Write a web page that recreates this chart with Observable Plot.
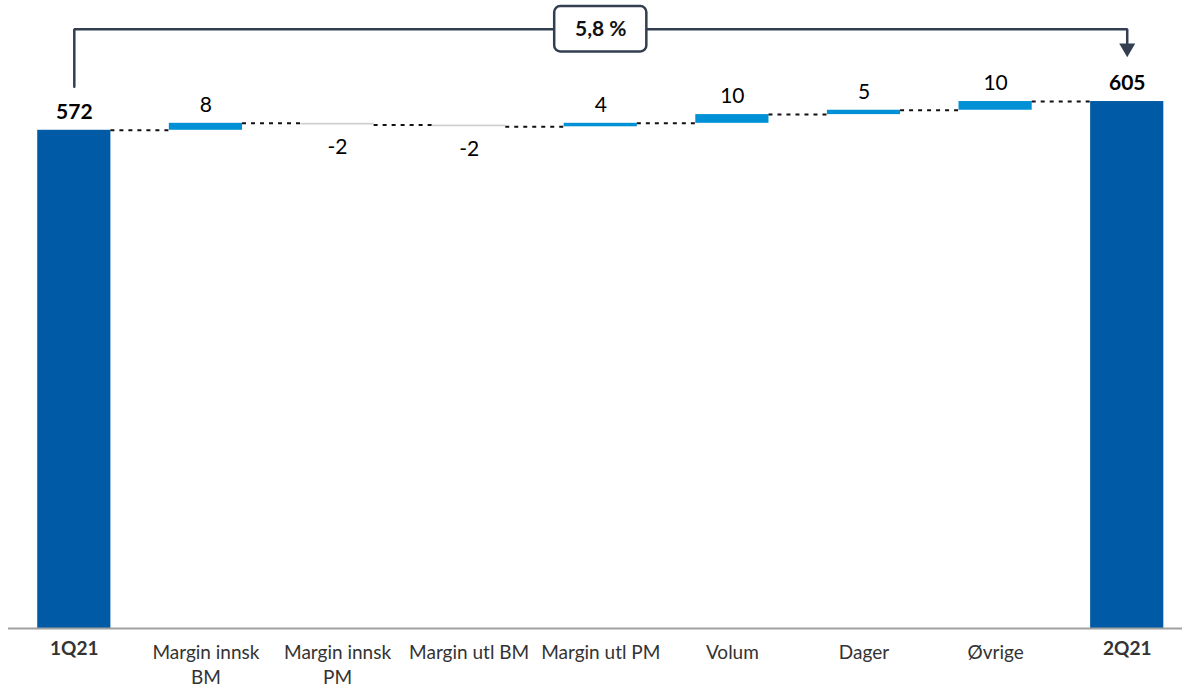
<!DOCTYPE html>
<html><head><meta charset="utf-8">
<script src="https://cdn.jsdelivr.net/npm/d3@7"></script>
<script src="https://cdn.jsdelivr.net/npm/@observablehq/plot@0.6"></script>
<style>body{margin:0;background:#fff;} svg{display:block;}</style>
</head><body><div id="chart"></div>
<script>
// ---- data ----
const categories = ["1Q21","Margin innsk BM","Margin innsk PM","Margin utl BM","Margin utl PM","Volum","Dager","Øvrige","2Q21"];
const tickLabels = ["1Q21","Margin innsk\nBM","Margin innsk\nPM","Margin utl BM","Margin utl PM","Volum","Dager","Øvrige","2Q21"];
const values = [572, 8, -2, -2, 4, 10, 5, 10, 605];
const isTotal = [true, false, false, false, false, false, false, false, true];
const valueLabels = ["572","8","-2","-2","4","10","5","10","605"];
const changeLabel = "5,8 %";

// ---- styles / layout constants ----
const HALF = 0.278;           // half bar width in category units
const COLORS = {total: "#005aa5", up: "#0090d5", down: "#d0d0d0"};
const DARK = "#333f50";

// ---- derived table ----
let cum = 0;
const rows = categories.map((c, i) => {
  let y1, y2;
  if (isTotal[i]) { y1 = 0; y2 = values[i]; }
  else { y1 = cum; y2 = cum + values[i]; }
  cum = y2;
  return {i, c, x1: i - HALF, x2: i + HALF, y1, y2,
    lo: Math.min(y1, y2), hi: Math.max(y1, y2), end: y2,
    total: isTotal[i], v: values[i], label: valueLabels[i],
    kind: isTotal[i] ? "total" : (values[i] >= 0 ? "up" : "down")};
});
const links = rows.slice(0, -1).map((r, i) => ({x1: i + HALF, x2: i + 1 - HALF, y: r.end}));

const firstRow = rows[0], lastRow = rows[rows.length - 1];
const maxTotal = Math.max(firstRow.end, lastRow.end);
const bracketY = maxTotal + 83;
const bracket = [
  {x: firstRow.i, y: firstRow.end + 50},
  {x: firstRow.i, y: bracketY},
  {x: lastRow.i, y: bracketY},
  {x: lastRow.i, y: lastRow.end + 66}
];
const midX = (firstRow.i + lastRow.i) / 2;
const downTriangle = {
  draw(context, size) {
    const y = Math.sqrt(size / (Math.sqrt(3) * 3));
    context.moveTo(0, 2 * y);
    context.lineTo(-Math.sqrt(3) * y, -y);
    context.lineTo(Math.sqrt(3) * y, -y);
    context.closePath();
  }
};

const totalsIdx = rows.filter(r => r.total).map(r => r.i);
const otherIdx = rows.filter(r => !r.total).map(r => r.i);

const chart = Plot.plot({
  width: 1182,
  height: 689,
  marginTop: 0,
  marginBottom: 61,
  marginLeft: 8,
  marginRight: 0,
  style: {fontFamily: "Lato, 'Open Sans', sans-serif", fontSize: "19px", background: "#fff"},
  x: {type: "linear", domain: [-0.5, 8.42]},
  y: {domain: [0, 721], axis: null},
  marks: [
    Plot.rect(rows, {x1: "x1", x2: "x2", y1: "lo", y2: "hi", fill: d => COLORS[d.kind]}),
    Plot.ruleY(links, {x1: "x1", x2: "x2", y: "y", stroke: "#111", strokeWidth: 2, strokeDasharray: "4,5"}),
    Plot.ruleY([0], {stroke: "#a0a0a0", strokeWidth: 2}),
    Plot.text(rows.filter(r => r.total), {x: "i", y: "hi", text: "label", dy: -18, fontSize: 21, fontWeight: "bold", fill: "#000"}),
    Plot.text(rows.filter(r => !r.total && r.v >= 0), {x: "i", y: "hi", text: "label", dy: -18, fontSize: 21, fill: "#000"}),
    Plot.text(rows.filter(r => !r.total && r.v < 0), {x: "i", y: "lo", text: "label", dy: 22, fontSize: 21, fill: "#000"}),
    Plot.axisX(otherIdx, {tickSize: 0, tickPadding: 13, tickFormat: i => tickLabels[i], lineHeight: 1.3, fill: "#333", fontSize: 19}),
    Plot.axisX(totalsIdx, {tickSize: 0, tickPadding: 13, tickFormat: i => tickLabels[i], fontWeight: "bold", fill: "#333", fontSize: 19}),
    Plot.line(bracket, {x: "x", y: "y", stroke: DARK, strokeWidth: 2.5, strokeLinejoin: "miter"}),
    Plot.dot([{x: lastRow.i, y: lastRow.end + 61.4}], {x: "x", y: "y", symbol: downTriangle, r: 5.94, fill: DARK, stroke: "none"}),
    Plot.rect([{x1: midX - 0.35, x2: midX + 0.35, y1: bracketY - 26, y2: bracketY + 26}], {x1: "x1", x2: "x2", y1: "y1", y2: "y2", rx: 6, fill: "#fff", stroke: DARK, strokeWidth: 2.5}),
    Plot.text([{x: midX, y: bracketY, t: changeLabel}], {x: "x", y: "y", text: "t", fontSize: 21, fontWeight: "bold", fill: "#111"})
  ]
});
document.getElementById("chart").appendChild(chart);
</script>
</body></html>
